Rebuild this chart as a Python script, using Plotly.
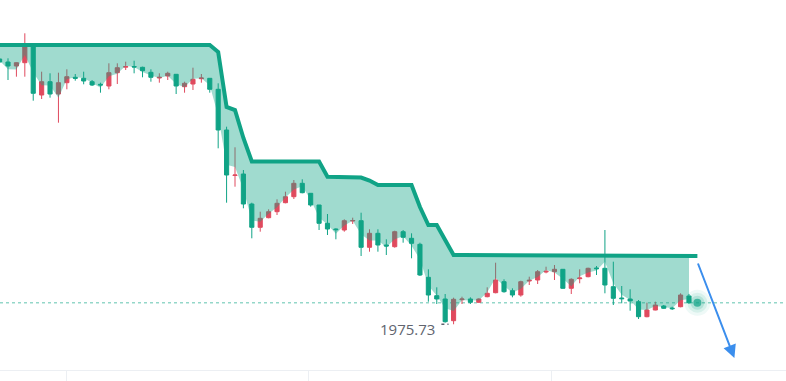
import plotly.graph_objects as go

# ---- data ----
idx = list(range(83))

opens = [2241, 2238, 2234, 2237.3, 2255, 2205, 2218.3, 2206, 2217.3, 2222.7,
         2221.7, 2218.3, 2215.7, 2214, 2227.3, 2232.8, 2233.5, 2232.7, 2227.7, 2222,
         2224, 2225.7, 2213.3, 2216, 2221.3, 2221.7, 2210.7, 2170, 2124.5, 2126,
         2096, 2072.7, 2082.3, 2088.3, 2097.3, 2103.3, 2116.7, 2106.7, 2095, 2076.7,
         2071, 2070, 2079, 2079.3, 2052.7, 2066.7, 2055, 2053.3, 2068.3, 2061.7,
         2055.7, 2022.7, 2004.3, 2001, 1979.3, 2000.3, 2001, 1997.7, 2003.3, 2007.3,
         2018.3, 2009.3, 2005, 2019, 2020, 2028, 2028.3, 2030.7, 2011.7, 2021.3,
         2023.3, 2032, 2031.7, 2013.3, 2002, 2001, 1998.3, 1983.3, 1990, 1994,
         1992, 1993.3, 2004]

closes = [2238, 2234, 2237.3, 2253.3, 2206.7, 2218.3, 2206, 2217.3, 2223.3, 2221.7,
          2219, 2215, 2215, 2227.3, 2232.3, 2233.5, 2233, 2229.3, 2222.7, 2222.7,
          2226.7, 2214, 2216.7, 2220.7, 2222, 2210.7, 2170, 2125, 2125, 2096,
          2072.7, 2081.7, 2088.3, 2096.7, 2103.3, 2116.7, 2107.3, 2095, 2076.7, 2071,
          2070.3, 2079.3, 2079.5, 2052.7, 2066.7, 2055, 2054, 2068.3, 2062.7, 2056.7,
          2025, 2005, 2001, 1978.3, 2000.7, 2001, 1997.7, 2001, 2006.7, 2020,
          2008.3, 2005, 2018.3, 2019.7, 2028.3, 2028.7, 2030.7, 2011.7, 2020.7, 2022,
          2031.7, 2031.3, 2015, 2001.7, 2001.3, 1999, 1983.3, 1990, 1995, 1991.7,
          1991.3, 2005, 1997.3]

highs = [2242, 2241.7, 2237.7, 2266.7, 2255.5, 2228.3, 2226.7, 2227.3, 2230.7, 2226,
         2228.3, 2220, 2217.3, 2236.7, 2236.7, 2238.3, 2239.3, 2233.3, 2230.7, 2226.7,
         2228.3, 2226, 2218.3, 2232.3, 2226, 2222, 2216.7, 2173.3, 2152.7, 2130,
         2097.3, 2088.3, 2090.7, 2100.7, 2108.3, 2120, 2120.7, 2107, 2095, 2086,
         2071.7, 2080.7, 2082.3, 2087.3, 2070.7, 2070.7, 2060.7, 2069.3, 2070, 2066.7,
         2057.3, 2030.7, 2012.7, 2006, 2002.3, 2003.3, 2002.7, 2001.7, 2012.7, 2037.3,
         2020.7, 2011.7, 2019.3, 2023.3, 2030, 2033.3, 2035, 2031, 2021.7, 2030.7,
         2032.3, 2034, 2070, 2038.3, 2014, 2010.7, 2000, 1997.3, 1998.3, 1995,
         1993.3, 2006.7, 2006]

lows = [2237, 2220, 2223.3, 2223.3, 2199.3, 2201, 2202.3, 2177.3, 2210.7, 2219.3,
        2215.7, 2214, 2207.3, 2210.7, 2216, 2230, 2226.7, 2222.7, 2218.3, 2217.3,
        2220, 2206, 2207.3, 2210, 2217.3, 2207.3, 2151.7, 2097.3, 2113.3, 2091.7,
        2061.7, 2068.3, 2081.7, 2085, 2096.7, 2101, 2106.7, 2093.3, 2070, 2065,
        2060.7, 2068.3, 2076, 2044, 2048.3, 2048.3, 2045, 2052.3, 2057.3, 2041.7,
        2024, 1998.3, 1996, 1977.3, 1975.73, 1996, 1996, 1997.3, 2002.7, 2006.7,
        2007.3, 2002.7, 2003.3, 2015, 2016, 2026.7, 2020, 2011.3, 2006, 2016.7,
        2022.7, 2025, 2006.7, 1995, 1996.7, 1989.3, 1981, 1982.7, 1989.7, 1991,
        1990, 1992.7, 1996]

# trailing stop line (one value per bar, plus the live bar)
stop_idx = list(range(84))
stop_line = ([2255] * 26 + [2248, 2193, 2190, 2162] + [2138.5] * 9 +
             [2123.3] * 4 + [2122.5, 2119.5] + [2115] * 5 + [2093, 2075, 2075, 2059] +
             [2045] * 25 + [2044] * 5)

last_idx = 83
last_price = 1997.3
low_idx = 54
low_price = 1975.73
low_label = "1975.73"
forecast_x = [83, 87.4]
forecast_y = [2038, 1942]
day_ticks = [7.9, 36.8, 65.7]

# ---- styling ----
GREEN = "#10a386"
RED = "#e04a5e"
FILL = "rgba(17,166,136,0.40)"
AXIS = "#eceff3"

mid = [(h + l) / 2 for h, l in zip(highs, lows)]

fig = go.Figure()

# lower edge of the band
fig.add_trace(go.Scatter(x=idx, y=mid, mode="lines", line=dict(width=0),
                         hoverinfo="skip", showlegend=False))
# band fill up to the stop line
fig.add_trace(go.Scatter(x=idx, y=stop_line[:len(idx)], mode="lines",
                         line=dict(width=0), fill="tonexty", fillcolor=FILL,
                         hoverinfo="skip", showlegend=False))
# stop line
fig.add_trace(go.Scatter(x=stop_idx, y=stop_line, mode="lines",
                         line=dict(color=GREEN, width=4), hoverinfo="skip",
                         showlegend=False))
# live price pulse
fig.add_trace(go.Scatter(x=[last_idx] * 4, y=[last_price] * 4, mode="markers",
                         marker=dict(size=[26, 20, 14, 8],
                                     color=["rgba(17,166,136,0.10)",
                                            "rgba(17,166,136,0.15)",
                                            "rgba(17,166,136,0.25)", GREEN],
                                     line=dict(width=0)),
                         hoverinfo="skip", showlegend=False))
# candles (red = rising, green = falling)
fig.add_trace(go.Candlestick(x=idx, open=opens, high=highs, low=lows, close=closes,
                             increasing=dict(line=dict(color=RED, width=1), fillcolor=RED),
                             decreasing=dict(line=dict(color=GREEN, width=1), fillcolor=GREEN),
                             whiskerwidth=0, hoverinfo="skip", showlegend=False))

# current price dotted line
fig.add_shape(type="line", xref="paper", x0=0, x1=1, y0=last_price, y1=last_price,
              line=dict(color="rgba(17,166,136,0.45)", width=1.5, dash="3px,3px"),
              layer="below")

# low label with dotted leader
fig.add_shape(type="line", x0=low_idx - 1.45, x1=low_idx - 0.6, y0=low_price, y1=low_price,
              line=dict(color="#5f6370", width=1.5, dash="dot"))
fig.add_annotation(x=low_idx - 2.0, y=low_price, text=low_label, showarrow=False,
                   xanchor="right", yanchor="middle", yshift=-5,
                   font=dict(family="Open Sans, sans-serif", size=15,
                             color="#61656f"))

# forecast arrow
fig.add_annotation(x=forecast_x[1], y=forecast_y[1], ax=forecast_x[0], ay=forecast_y[0],
                   xref="x", yref="y", axref="x", ayref="y", text="", showarrow=True,
                   arrowhead=2, arrowsize=1.3, arrowwidth=2, arrowcolor="#3b8eed")

fig.update_layout(
    width=786, height=381,
    margin=dict(l=0, r=0, t=0, b=11),
    paper_bgcolor="white", plot_bgcolor="white",
    showlegend=False, hovermode=False,
    xaxis=dict(range=[0.048, 93.54], showgrid=False, zeroline=False,
               showline=True, linecolor=AXIS, linewidth=1,
               ticks="outside", ticklen=11, tickcolor=AXIS, tickwidth=1,
               tickmode="array", tickvals=day_ticks, showticklabels=False,
               rangeslider=dict(visible=False), fixedrange=True),
    yaxis=dict(range=[1930, 2300], showgrid=False, zeroline=False,
               showline=False, showticklabels=False, fixedrange=True),
)

fig.write_html("out.html", config={"displayModeBar": False},
               post_script="document.body.style.margin='0';document.body.style.overflow='hidden';")
